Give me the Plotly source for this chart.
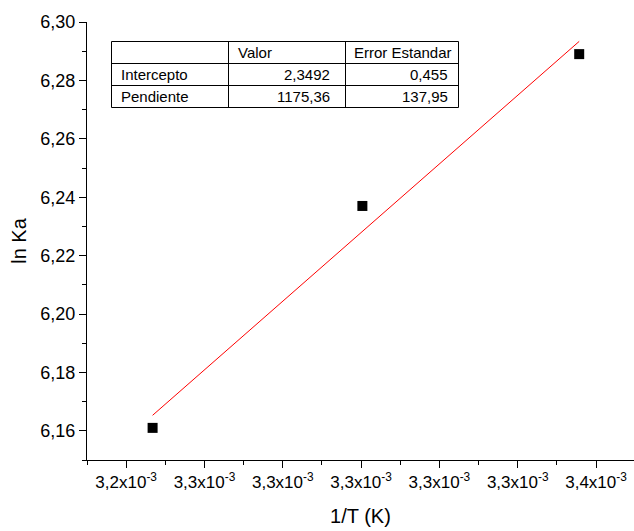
import plotly.graph_objects as go

# Van 't Hoff data: inverse temperature and ln Ka
temps_K = [308, 303, 298]
inv_T = [1.0 / t for t in temps_K]
ln_Ka = [6.161, 6.237, 6.289]

# Linear fit parameters
intercept = 2.3492
slope = 1175.36
intercept_err = 0.455
slope_err = 137.95

# Axis ticks
x_tickvals = [3.24e-3, 3.26e-3, 3.28e-3, 3.30e-3, 3.32e-3, 3.34e-3, 3.36e-3]
x_ticktext = ["3,2x10<sup>-3</sup>", "3,3x10<sup>-3</sup>", "3,3x10<sup>-3</sup>",
              "3,3x10<sup>-3</sup>", "3,3x10<sup>-3</sup>", "3,3x10<sup>-3</sup>",
              "3,4x10<sup>-3</sup>"]
y_tickvals = [6.16, 6.18, 6.20, 6.22, 6.24, 6.26, 6.28, 6.30]

# Table contents
table_header = ["", "Valor", "Error Estandar"]
table_rows = ["Intercepto", "Pendiente"]
table_vals = ["2,3492", "1175,36"]
table_errs = ["0,455", "137,95"]

fit_x = [min(inv_T), max(inv_T)]
fit_y = [intercept + slope * x for x in fit_x]

font = "Liberation Sans, Arial, sans-serif"

W, H = 634, 531
ML, MR, MT, MB = 87, 0, 22, 71
PW, PH = W - ML - MR, H - MT - MB


def fx(px):
    return (px - ML) / PW


def fy(py):
    return (H - MB - py) / PH


fig = go.Figure()
fig.add_trace(go.Scatter(x=fit_x, y=fit_y, mode="lines",
                         line=dict(color="#ff0000", width=1), showlegend=False))
fig.add_trace(go.Scatter(x=inv_T, y=ln_Ka, mode="markers",
                         marker=dict(symbol="square", size=10, color="black"),
                         showlegend=False))

# Fit results table drawn with shapes and annotations
col_edges = [111.5, 228.5, 345.5, 458.5]
row_edges = [41.5, 63.5, 85.5, 107.5]
shapes = [dict(type="rect", xref="paper", yref="paper",
               x0=fx(col_edges[0]), x1=fx(col_edges[-1]),
               y0=fy(row_edges[-1]), y1=fy(row_edges[0]),
               line=dict(color="black", width=1), fillcolor="white", layer="above")]
for cx in col_edges[1:-1]:
    shapes.append(dict(type="line", xref="paper", yref="paper",
                       x0=fx(cx), x1=fx(cx), y0=fy(row_edges[-1]), y1=fy(row_edges[0]),
                       line=dict(color="black", width=1), layer="above"))
for ry in row_edges[1:-1]:
    shapes.append(dict(type="line", xref="paper", yref="paper",
                       x0=fx(col_edges[0]), x1=fx(col_edges[-1]), y0=fy(ry), y1=fy(ry),
                       line=dict(color="black", width=1), layer="above"))

annotations = []
tfont = dict(family=font, size=15, color="black")


def cell(text, px, row, anchor):
    yc = (row_edges[row] + row_edges[row + 1]) / 2
    annotations.append(dict(text=text, xref="paper", yref="paper",
                            x=fx(px), y=fy(yc), xanchor=anchor, yanchor="middle",
                            showarrow=False, font=tfont))


cell(table_header[1], col_edges[1] + 7, 0, "left")
cell(table_header[2], col_edges[2] + 6, 0, "left")
for i, name in enumerate(table_rows):
    cell(name, col_edges[0] + 7, i + 1, "left")
    cell(table_vals[i], col_edges[2] - 14, i + 1, "right")
    cell(table_errs[i], col_edges[3] - 9, i + 1, "right")

fig.update_layout(
    width=W, height=H,
    margin=dict(l=ML, r=MR, t=MT, b=MB),
    paper_bgcolor="white", plot_bgcolor="white",
    separators=",.",
    font=dict(family=font, color="black"),
    shapes=shapes, annotations=annotations,
    xaxis=dict(range=[3.23e-3, 3.3697e-3], tickmode="array",
               tickvals=x_tickvals, ticktext=x_ticktext,
               ticks="outside", ticklen=7, tickwidth=1, tickcolor="black",
               minor=dict(ticks="outside", ticklen=4, tickwidth=1, tickcolor="black",
                          dtick=1e-5, tick0=3.23e-3),
               showline=True, linecolor="black", linewidth=1, mirror=False,
               showgrid=False, zeroline=False,
               tickfont=dict(size=17),
               title=dict(text="1/T (K)", font=dict(size=20), standoff=17)),
    yaxis=dict(range=[6.15, 6.30], tickmode="array", tickvals=y_tickvals,
               tickformat=".2f",
               ticks="outside", ticklen=7, tickwidth=1, tickcolor="black",
               minor=dict(ticks="outside", ticklen=4, tickwidth=1, tickcolor="black",
                          dtick=0.01, tick0=6.15),
               showline=True, linecolor="black", linewidth=1, mirror=False,
               showgrid=False, zeroline=False,
               tickfont=dict(size=18),
               title=dict(text="ln Ka", font=dict(size=20), standoff=8)),
)

fig.write_html("out.html")
